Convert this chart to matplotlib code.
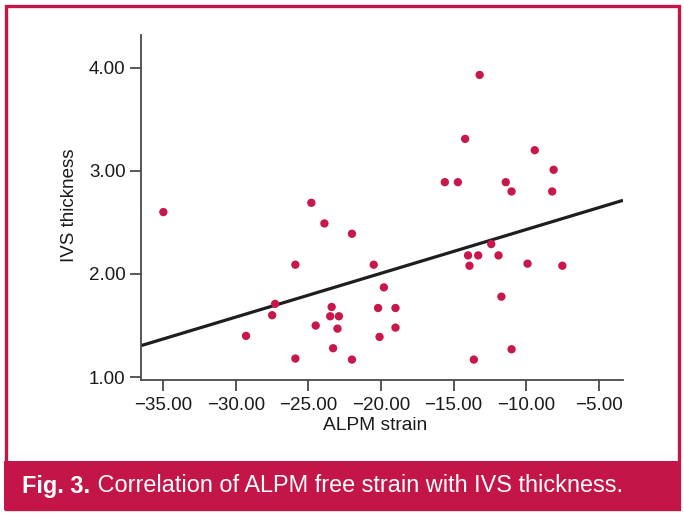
import numpy as np
import matplotlib
matplotlib.use("Agg")
import matplotlib.pyplot as plt
from matplotlib.patches import Rectangle

# Data
alpm_strain = [-35.0, -24.8, -23.9, -22.0, -25.9, -20.5, -27.3, -27.5, -29.3, -23.4,
               -23.5, -22.9, -24.5, -23.0, -23.3, -25.9, -22.0, -20.2, -20.1, -19.8,
               -19.0, -19.0, -13.2, -14.2, -15.6, -14.7, -11.4, -11.0, -9.4, -8.1,
               -8.2, -12.4, -14.0, -13.3, -11.9, -13.9, -9.9, -7.5, -11.7, -11.0, -13.6]
ivs_thickness = [2.60, 2.69, 2.49, 2.39, 2.09, 2.09, 1.71, 1.60, 1.40, 1.68,
                 1.59, 1.59, 1.50, 1.47, 1.28, 1.18, 1.17, 1.67, 1.39, 1.87,
                 1.67, 1.48, 3.93, 3.31, 2.89, 2.89, 2.89, 2.80, 3.20, 3.01,
                 2.80, 2.29, 2.18, 2.18, 2.18, 2.08, 2.10, 2.08, 1.78, 1.27, 1.17]
# fitted line (value at the axis ends)
fit_x = [-36.54, -3.32]
fit_y = [1.305, 2.714]

x_ticks = [-35, -30, -25, -20, -15, -10, -5]
y_ticks = [1, 2, 3, 4]
caption_bold = "Fig. 3."
caption_rest = " Correlation of ALPM free strain with IVS thickness."

crimson = "#C41548"
dot_color = "#C8174A"
axis_color = "#4a4a4a"

plt.rcParams['font.family'] = ['Liberation Sans', 'DejaVu Sans']

fig = plt.figure(figsize=(6.84, 5.13), dpi=100)
W, H = 684, 513

# border and caption bar
fig.patches.append(Rectangle((5.5 / W, 1 - 509 / H), (680 - 7) / W, (509 - 5.5) / H,
                             transform=fig.transFigure, facecolor="white",
                             edgecolor=crimson, linewidth=2.4, zorder=-10))
fig.patches.append(Rectangle((4 / W, 1 - 510 / H), (680 - 3) / W, (510 - 461) / H,
                             transform=fig.transFigure, facecolor=crimson,
                             edgecolor="none", zorder=-9))

ax = fig.add_axes([141 / W, 1 - 380 / H, (623 - 141) / W, (380 - 35) / H])
ax.set_zorder(5)
ax.set_facecolor("none")
ax.scatter(alpm_strain, ivs_thickness, s=36, color=dot_color, edgecolors="none", zorder=3)
ax.plot(fit_x, fit_y, color="#1e1e1e", linewidth=2.3, zorder=2, solid_capstyle="butt")

ax.set_xlim(-36.54, -3.32)
ax.set_ylim(0.972, 4.317)
ax.set_xticks(x_ticks)
ax.set_xticklabels([f"\u2212{abs(v):.2f}" for v in x_ticks])
ax.set_yticks(y_ticks)
ax.set_yticklabels([f"{v:.2f}" for v in y_ticks])

for s in ["top", "right"]:
    ax.spines[s].set_visible(False)
for s in ["left", "bottom"]:
    ax.spines[s].set_color(axis_color)
    ax.spines[s].set_linewidth(1.3)
ax.tick_params(axis="both", direction="out", length=8, width=1.3, color=axis_color,
               labelsize=13.5, labelcolor="#1a1a1a")
ax.tick_params(axis="x", pad=4.5)
ax.tick_params(axis="y", pad=3)

ax.set_xlabel("ALPM strain", fontsize=13.8, color="#1a1a1a")
ax.set_ylabel("IVS thickness", fontsize=13.5, color="#1a1a1a")
ax.xaxis.set_label_coords((375 - 141) / (623 - 141), -(425 - 380) / (380 - 35))
ax.xaxis.label.set_va("center")
ax.yaxis.set_label_coords(-(141 - 70) / (623 - 141), (380 - 205) / (380 - 35))
ax.yaxis.label.set_va("center")

# caption
t1 = fig.text(22.5 / W, 1 - 486 / H, caption_bold, fontsize=16.9, fontweight="bold",
              color="white", va="center", ha="left", zorder=10)
fig.canvas.draw()
bb = t1.get_window_extent()
fig.text(bb.x1 / W, 1 - 486 / H, caption_rest, fontsize=16.9, color="white",
         va="center", ha="left", zorder=10)

fig.savefig("out.png", dpi=100)
